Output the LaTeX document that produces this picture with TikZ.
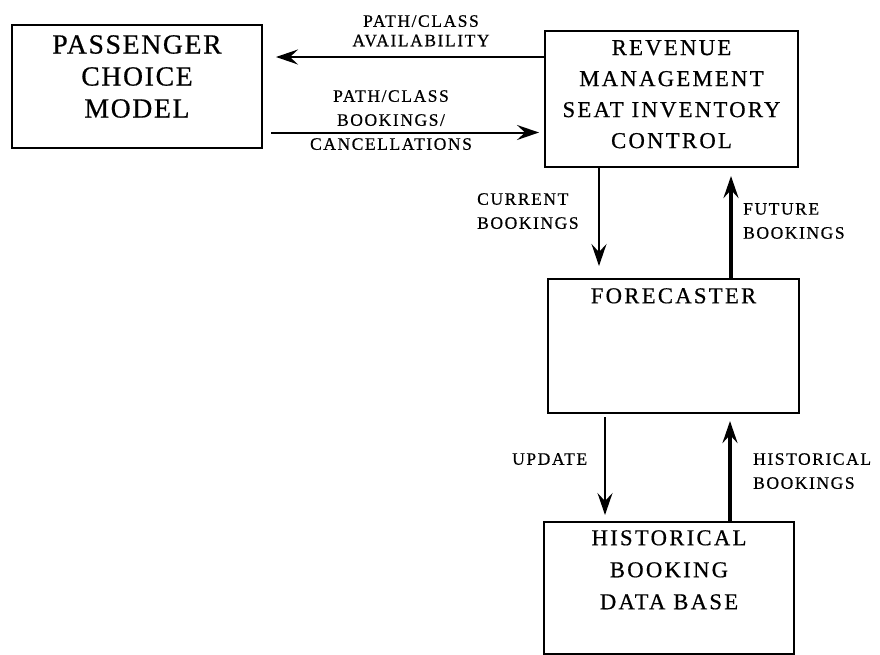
\documentclass[tikz,border=0pt]{standalone}
\usepackage{fontspec}
\setmainfont{Liberation Serif}
\newfontfamily\pcmfont[LetterSpace=6,FakeBold=0.6]{Liberation Serif}
\newfontfamily\boxfont[LetterSpace=10,FakeBold=0.6]{Liberation Serif}
\newfontfamily\lblfont[LetterSpace=9,FakeBold=0.6]{Liberation Serif}
\usetikzlibrary{arrows.meta}
\usetikzlibrary{positioning}
\usetikzlibrary{scopes}

\begin{document}
\begin{tikzpicture}[
    x=1pt, y=-1pt,
    box/.style={rectangle,draw,line width=2pt,anchor=north west,inner sep=0pt},
    boxtext/.style={align=center,inner sep=0pt,font=\boxfont\fontsize{22.7}{31}\selectfont},
    lbl/.style={inner sep=0pt,font=\lblfont\fontsize{17.5}{24}\selectfont},
    flow/.style={-{Stealth[length=22pt,width=15pt,inset=8pt]},line width=2pt},
    heavy/.style={line width=3.5pt},
]
    \useasboundingbox (0,0) rectangle (880,654);

    % Boxes
    \node[box,minimum width=250pt,minimum height=123pt] (pcm) at (11,24) {};
    \node[box,minimum width=253pt,minimum height=136pt] (rm) at (544,30) {};
    \node[box,minimum width=251pt,minimum height=134pt] (fc) at (547,278) {};
    \node[box,minimum width=250pt,minimum height=132pt] (hdb) at (543,521) {};

    % Box texts
    \node[boxtext,font=\pcmfont\fontsize{27.7}{32}\selectfont,below=11pt of pcm.north] (pcmtext) {PASSENGER\\CHOICE\\MODEL};
    \node[boxtext,below=10pt of rm.north] (rmtext) {REVENUE\\MANAGEMENT\\SEAT INVENTORY\\CONTROL};
    \node[boxtext,below=10pt of fc.north] (fctext) {FORECASTER};
    \node[boxtext,font=\boxfont\fontsize{22.7}{32}\selectfont,below=9pt of hdb.north] (hdbtext) {HISTORICAL\\BOOKING\\DATA BASE};

    % Rows and columns of the arrows
    \coordinate (avrow) at (0,57);
    \coordinate (bkrow) at (0,132.5);
    \coordinate (curcol) at (599,0);
    \coordinate (futcol) at (731,0);
    \coordinate (updcol) at (605,0);
    \coordinate (hiscol) at (730,0);

    % Flows
    {[flow]
        \draw[shorten >=13pt] (rm.west |- avrow) -- (pcm.east |- avrow);
        \draw[shorten <=8pt,shorten >=5pt] (pcm.east |- bkrow) -- (rm.west |- bkrow);
        \draw[shorten >=12pt] (rm.south -| curcol) -- (fc.north -| curcol);
        \draw[heavy,shorten >=8pt] (fc.north -| futcol) -- (rm.south -| futcol);
        \draw[shorten <=3pt,shorten >=6pt] (fc.south -| updcol) -- (hdb.north -| updcol);
        \draw[heavy,shorten >=7pt] (hdb.north -| hiscol) -- (fc.south -| hiscol);
    }

    % Flow labels
    \node[lbl,align=center,font=\lblfont\fontsize{17.5}{19.5}\selectfont,anchor=north] (avlbl) at (421,15) {PATH/CLASS\\AVAILABILITY};
    \node[lbl,align=center,anchor=north] (bklbl) at (391,90) {PATH/CLASS\\BOOKINGS/\\CANCELLATIONS};
    \node[lbl,align=left,anchor=north west] (curlbl) at (477,193) {CURRENT\\BOOKINGS};
    \node[lbl,align=left,anchor=north west] (futlbl) at (743,203) {FUTURE\\BOOKINGS};
    \node[lbl,anchor=north west] (updlbl) at (512,453) {UPDATE};
    \node[lbl,align=left,anchor=north west] (hislbl) at (753,453) {HISTORICAL\\BOOKINGS};
\end{tikzpicture}
\end{document}
